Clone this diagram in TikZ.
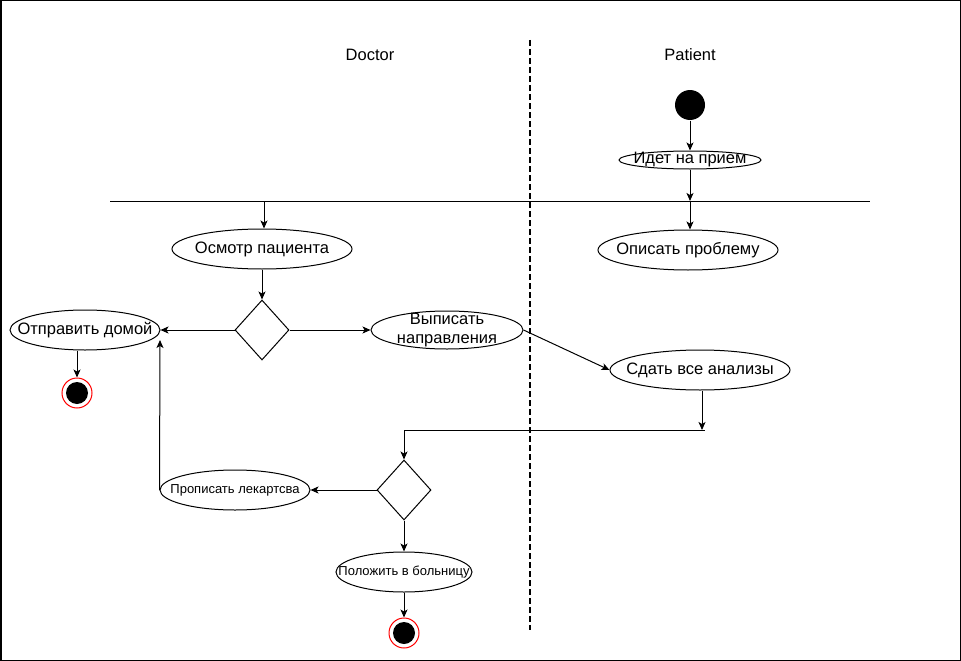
\documentclass[tikz,border=0pt]{standalone}
\usepackage{fontspec}
\setmainfont{Liberation Sans}
\usetikzlibrary{shapes.geometric, arrows.meta, positioning, calc}

\begin{document}
\begin{tikzpicture}[x=1pt, y=-1pt, line width=1pt, font=\fontsize{16.5}{19}\selectfont, >={Stealth[length=8pt, width=7pt, inset=2pt]}, every node/.style={align=center},
    act/.style={draw, ellipse, inner xsep=-60pt, inner ysep=0pt, minimum height=40pt},
    small/.style={font=\fontsize{13}{15}\selectfont},
    choice/.style={draw, diamond, inner sep=0pt, minimum width=54pt, minimum height=60pt},
    startdot/.style={circle, fill=black, inner sep=0pt, minimum size=30pt},
    endring/.style={circle, draw=red, fill=white, inner sep=0pt, minimum size=30pt}]
    \useasboundingbox (0,0) rectangle (961,661);
    \draw[line width=1.5pt] (0.75,0.75) rectangle (960.25,660.25);

    % lanes
    \node (doc) at ({370},{55}) {Doctor};
    \node (pat) at ({690},{55}) {Patient};
    \coordinate (laneT) at ({530},{40});
    \coordinate (laneB) at ({530},{630});
    \draw[line width=2pt, dash pattern=on 6pt off 3pt] (laneT) -- (laneB);

    % patient side
    \node[startdot] (st) at ({690},{105}) {};
    \node[act, minimum width=142pt, minimum height=18pt, inner ysep=-4pt] (go) at ({690},{160}) {Идет на прием};
    \coordinate (forkL) at ({110},{201});
    \coordinate (forkR) at ({870},{201});
    \node[act, minimum width=180pt] (opis) at ({688},{250}) {Описать проблему};
    \node[act, minimum width=180pt] (anal) at ({700},{370}) {Сдать все анализы};

    % doctor side
    \node[act, minimum width=180pt] (osm) at ({262},{249}) {Осмотр пациента};
    \node[choice] (d1) at ({262},{330}) {};
    \node[act, minimum width=150pt] (home) at ({85},{330}) {Отправить домой};
    \node[act, minimum width=152pt, minimum height=38pt, inner ysep=-12pt] (napr) at ({447},{330}) {Выписать\\направления};
    \node[endring] (e1) at ({77},{393}) {};
    \fill (e1) circle (11);
    \coordinate (joinL) at ({404},{430});
    \coordinate (joinR) at ({705},{430});
    \coordinate (backT) at ({160},{340});
    \node[choice] (d2) at ({404},{490}) {};
    \node[act, small, minimum width=150pt] (prop) at ({235},{490}) {Прописать лекартсва};
    \node[act, small, minimum width=136pt] (hosp) at ({404},{572}) {Положить в больницу};
    \node[endring] (e2) at ({404},{633}) {};
    \fill (e2) circle (11);

    % flow
    \draw (forkL) -- (forkR);
    \draw (joinL) -- (joinR);
    \draw[->] (st) -- (go);
    \draw[->] (go) -- (go |- forkL);
    \draw[->] ($(opis.north |- forkL)+(2,0)$) -- ($(opis.north)+(2,0)$);
    \draw[->] ($(osm.north |- forkL)+(2,0)$) -- ($(osm.north)+(2,0)$);
    \draw[->] (osm) -- (d1);
    \draw[->] (d1.west) -- (home.east);
    \draw[->] (d1.east) -- (napr.west);
    \draw[->] (napr.east) -- (anal.west);
    \draw[->] (home.south -| e1) -- (e1);
    \draw[->] ($(anal.south)+(2,0)$) -- ($(anal.south |- joinR)+(2,0)$);
    \draw[->] (joinL) -- (d2.north);
    \draw[->] (d2.west) -- (prop.east);
    \draw[->] (prop.west) -- (backT);
    \draw[->] (d2.south) -- (hosp.north);
    \draw[->] (hosp) -- (e2);
\end{tikzpicture}
\end{document}
